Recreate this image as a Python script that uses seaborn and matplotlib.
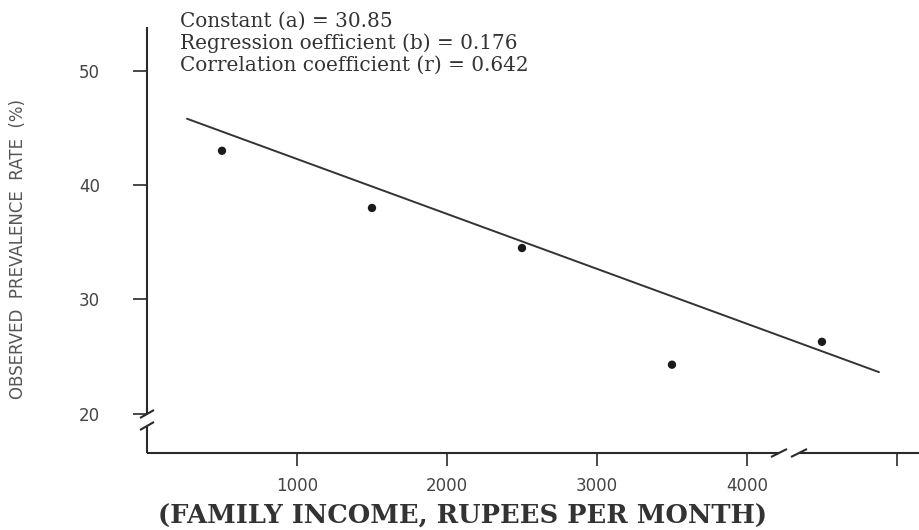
import matplotlib
matplotlib.use("Agg")
import matplotlib.pyplot as plt
import numpy as np
import pandas as pd
import seaborn as sns

# Observed prevalence by family income group
income = [500, 1500, 2500, 3500, 4500]
prevalence = [43.0, 38.0, 34.5, 24.3, 26.3]

# Fitted regression line (end points)
fit_income = [267, 4880]
fit_prevalence = [45.8, 23.65]

y_ticks = [20, 30, 40, 50]
x_ticks = [1000, 2000, 3000, 4000, 5000]
x_tick_labels = ["1000", "2000", "3000", "4000", ""]

stats_lines = [
    "Constant (a) = 30.85",
    "Regression oefficient (b) = 0.176",
    "Correlation coefficient (r) = 0.642",
]

sns.set_style("white")
plt.rcParams["font.family"] = ["DejaVu Sans"]

W, H = 919, 530
fig = plt.figure(figsize=(W / 100, H / 100), dpi=100)
fig.patch.set_facecolor("white")

ax = fig.add_axes([147 / W, 77 / H, 772 / W, 426 / H])
ax.set_facecolor("white")
x_lo, x_hi = 0, 5147
y_lo, y_hi = 16.58, 53.82
ax.set_xlim(x_lo, x_hi)
ax.set_ylim(y_lo, y_hi)

ink = "#2a2a2a"
points = pd.DataFrame({"income": income, "prevalence": prevalence})
fit = pd.DataFrame({"income": fit_income, "prevalence": fit_prevalence})

sns.lineplot(data=fit, x="income", y="prevalence", ax=ax, color="#333333",
             linewidth=1.4, estimator=None, sort=False)
sns.scatterplot(data=points, x="income", y="prevalence", ax=ax, color="#1a1a1a",
                s=36, edgecolor="none", zorder=5)

for s in ax.spines.values():
    s.set_visible(False)

# pixel -> data step sizes for drawing the axis breaks
px_x = (x_hi - x_lo) / 772
px_y = (y_hi - y_lo) / 426
axis_kw = dict(color=ink, linewidth=1.5, clip_on=False, solid_capstyle="butt")

# y axis with a break near the bottom
yb_top = y_hi - 387 * px_y   # px 414
yb_bot = y_hi - 399 * px_y   # px 426
ax.plot([0, 0], [yb_top, y_hi], **axis_kw)
ax.plot([0, 0], [y_lo, yb_bot], **axis_kw)
for yc in (yb_top, yb_bot):
    ax.plot([-7 * px_x, 7 * px_x], [yc - 4 * px_y, yc + 4 * px_y], **axis_kw)

# x axis with a break after 4000
xb_left = 632 * px_x    # px 779
xb_right = 652 * px_x   # px 799
ax.plot([0, xb_left], [y_lo, y_lo], **axis_kw)
ax.plot([xb_right, x_hi], [y_lo, y_lo], **axis_kw)
for xc in (xb_left, xb_right):
    ax.plot([xc - 8 * px_x, xc + 8 * px_x], [y_lo - 4 * px_y, y_lo + 4 * px_y], **axis_kw)

ax.set_yticks(y_ticks)
ax.set_yticklabels([str(v) for v in y_ticks])
ax.set_xticks(x_ticks)
ax.set_xticklabels(x_tick_labels)
ax.tick_params(axis="y", left=True, direction="out", length=10, width=1.2,
               color=ink, pad=24, labelsize=12, labelcolor="#444444")
ax.tick_params(axis="x", bottom=True, direction="out", length=9, width=1.2,
               color=ink, pad=8, labelsize=12, labelcolor="#444444")
ax.set_xlabel("")
ax.set_ylabel("")

# regression statistics
for i, line in enumerate(stats_lines):
    fig.text(180 / W, 1 - (21 + 22 * i) / H, line, family="DejaVu Serif",
             fontsize=14.4, color="#333333", ha="left", va="center")

fig.text(18 / W, 1 - 249 / H, "OBSERVED  PREVALENCE  RATE  (%)", rotation=90,
         fontsize=12, color="#555555", ha="center", va="center")

fig.text(463 / W, 1 - 516 / H, "(FAMILY INCOME, RUPEES PER MONTH)",
         family="DejaVu Serif", fontweight="bold", fontsize=18.5,
         color="#333333", ha="center", va="center")

fig.savefig("out.png", dpi=100, facecolor="white")
